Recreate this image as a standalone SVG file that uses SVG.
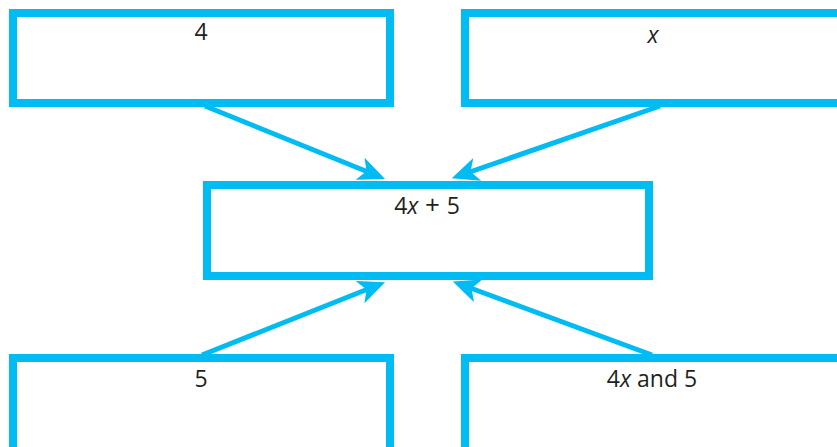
<svg xmlns="http://www.w3.org/2000/svg" width="837" height="447" viewBox="0 0 837 447">
<style>
.box{fill:#fff;stroke:#00bcf2;stroke-width:8}
.con{fill:none;stroke:#00bcf2;stroke-width:5}
text{font-family:"Open Sans","Noto Sans","Liberation Sans",sans-serif;font-size:23px;fill:#231f20;text-anchor:middle}
.i{font-style:italic}
</style>
<defs>
<marker id="ah" markerUnits="userSpaceOnUse" markerWidth="28" markerHeight="24" viewBox="0 0 28 24" refX="14" refY="12" orient="auto">
<path d="M27,12 L0,0 L7,12 L0,24 Z" fill="#00bcf2"/>
</marker>
</defs>
<rect width="837" height="447" fill="#fff"/>
<g id="n-4"><rect class="box" x="13" y="13" width="377" height="90"/><text x="201" y="40">4</text></g>
<g id="n-x"><rect class="box" x="465" y="13" width="390" height="90"/><text class="i" x="653" y="43">x</text></g>
<g id="n-4x5"><rect class="box" x="207" y="185" width="442" height="91"/><text x="427" y="214">4<tspan class="i">x</tspan><tspan font-size="26"> + </tspan>5</text></g>
<g id="n-5"><rect class="box" x="13" y="358" width="377" height="100"/><text x="201" y="387">5</text></g>
<g id="n-4xand5"><rect class="box" x="465" y="358" width="390" height="100"/><text x="652" y="387">4<tspan class="i">x</tspan> and 5</text></g>
<g id="connectors">
<path class="con" marker-end="url(#ah)" d="M205,106 L373,174"/>
<path class="con" marker-end="url(#ah)" d="M660,106 L464,174"/>
<path class="con" marker-end="url(#ah)" d="M202,355 L373,287"/>
<path class="con" marker-end="url(#ah)" d="M652,355 L465,286"/>
</g>
</svg>
